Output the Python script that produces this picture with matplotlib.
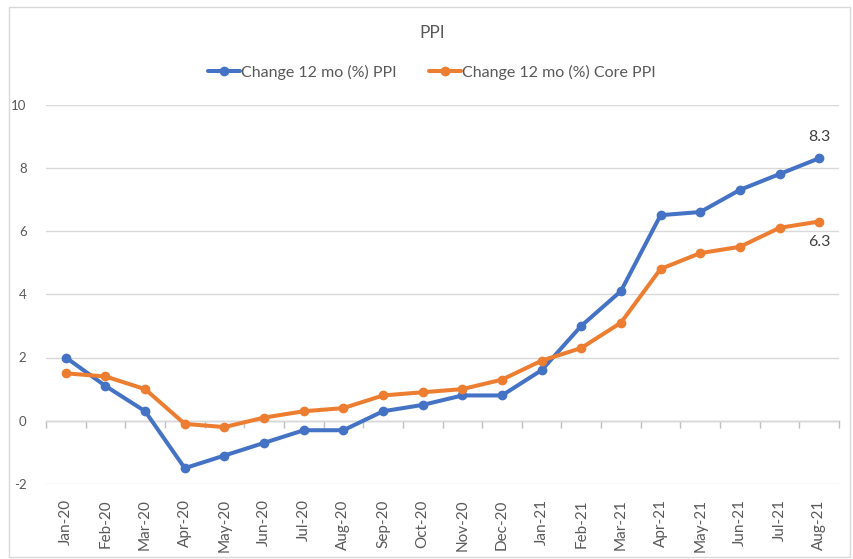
import matplotlib.pyplot as plt
from matplotlib.patches import Rectangle

months = ["Jan-20", "Feb-20", "Mar-20", "Apr-20", "May-20", "Jun-20", "Jul-20",
          "Aug-20", "Sep-20", "Oct-20", "Nov-20", "Dec-20", "Jan-21", "Feb-21",
          "Mar-21", "Apr-21", "May-21", "Jun-21", "Jul-21", "Aug-21"]
ppi = [2.0, 1.1, 0.3, -1.5, -1.1, -0.7, -0.3, -0.3, 0.3, 0.5,
       0.8, 0.8, 1.6, 3.0, 4.1, 6.5, 6.6, 7.3, 7.8, 8.3]
core_ppi = [1.5, 1.4, 1.0, -0.1, -0.2, 0.1, 0.3, 0.4, 0.8, 0.9,
            1.0, 1.3, 1.9, 2.3, 3.1, 4.8, 5.3, 5.5, 6.1, 6.3]
yticks = [-2, 0, 2, 4, 6, 8, 10]

BLUE = "#4472C4"
ORANGE = "#ED7D31"
TXT = "#595959"
GRID = "#d9d9d9"

plt.rcParams['font.family'] = ['Lato', 'DejaVu Sans']
plt.rcParams['axes.unicode_minus'] = False

fig = plt.figure(figsize=(8.54, 5.59), dpi=100)
# chart frame
fig.patches.append(Rectangle((9/854, 0.003), 0.995 - 9/854, 1 - 7/559 - 0.003,
                             transform=fig.transFigure, fill=False,
                             edgecolor="#d9d9d9", linewidth=1.0))

ax = fig.add_axes([46/854, (559-484)/559, (839-46)/854, (484-104.5)/559])
x = list(range(len(months)))

ax.plot(x, ppi, color=BLUE, lw=2.9, marker="o", ms=6, label="Change 12 mo (%) PPI",
        solid_capstyle="round", zorder=3)
ax.plot(x, core_ppi, color=ORANGE, lw=2.9, marker="o", ms=6,
        label="Change 12 mo (%) Core PPI", solid_capstyle="round", zorder=3)

ax.annotate(f"{ppi[-1]:.1f}", (x[-1], ppi[-1]), xytext=(0, 10), textcoords="offset points",
            ha="center", va="bottom", fontsize=11.5, color="#404040")
ax.annotate(f"{core_ppi[-1]:.1f}", (x[-1], core_ppi[-1]), xytext=(0, -10),
            textcoords="offset points", ha="center", va="top", fontsize=11.5, color="#404040")

ax.set_xlim(-0.5, len(months) - 0.5)
ax.set_ylim(-2, 10)
ax.set_yticks(yticks)
ax.tick_params(axis="y", length=0, labelsize=9.5, labelcolor=TXT, pad=14)
ax.grid(True, axis="y", color=GRID, lw=1.0)
ax.set_axisbelow(True)
for s in ax.spines.values():
    s.set_visible(False)

ax.set_xticks(x)
ax.set_xticklabels(months, rotation=90, fontsize=11, color=TXT)
ax.tick_params(axis="x", length=0, pad=11)

# category axis crossing at zero, with boundary tick marks
sec = ax.secondary_xaxis((0 - (-2)) / 12)
sec.set_xticks([i - 0.5 for i in range(len(months) + 1)])
sec.set_xticklabels([])
sec.tick_params(axis="x", length=5, width=1, color="#bfbfbf", direction="out")
sec.spines["bottom"].set_color("#bfbfbf")
sec.spines["bottom"].set_linewidth(1.0)

fig.text(432/854, 1 - 33/559, "PPI", ha="center", va="center", fontsize=12.5, color=TXT)
fig.legend(loc="center", bbox_to_anchor=(432/854, 1 - 72/559), ncol=2, frameon=False,
           fontsize=11.5, labelcolor=TXT, handlelength=2.0, handletextpad=0.1,
           columnspacing=2.0)

fig.savefig("out.png", dpi=100)
